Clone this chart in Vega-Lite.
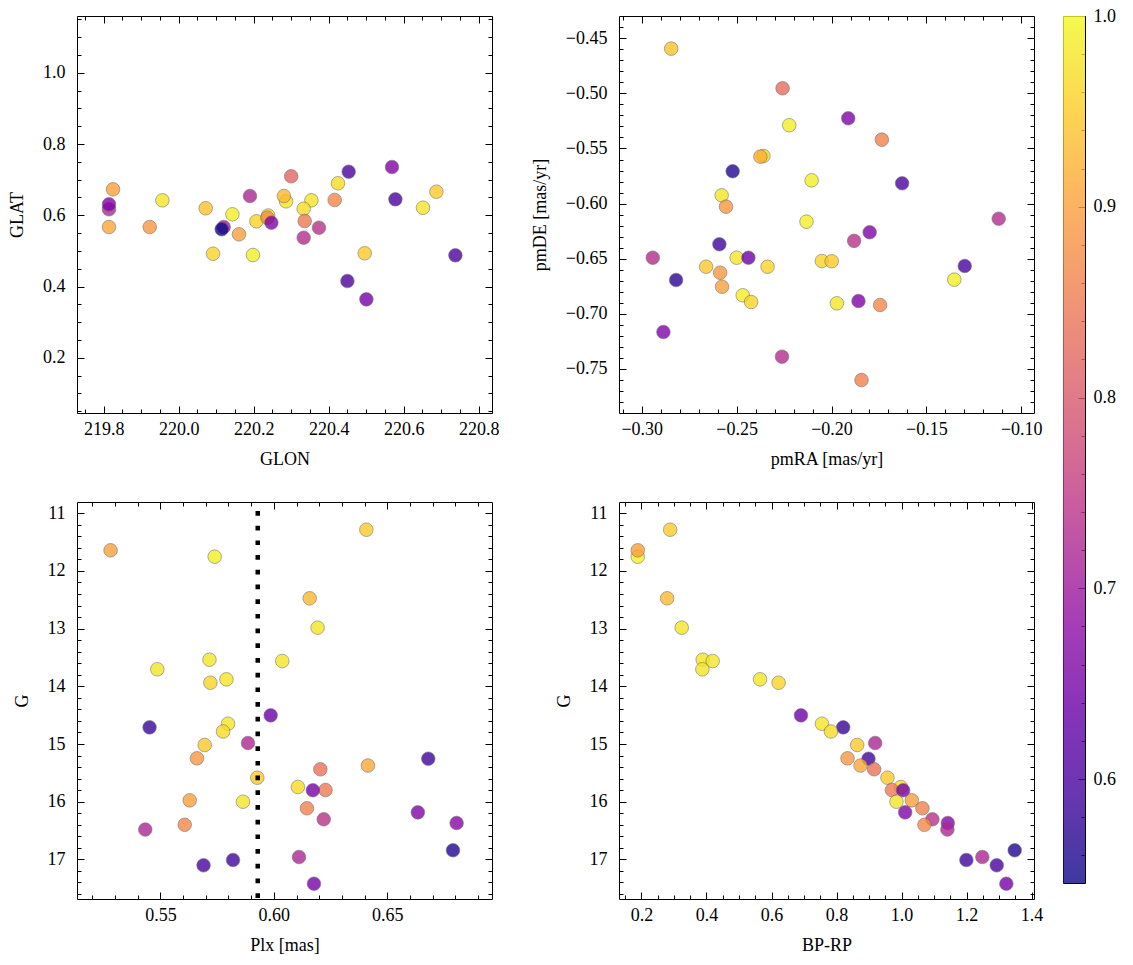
{
  "$schema": "https://vega.github.io/schema/vega-lite/v6.json",
  "background": "white",
  "padding": {"left": 8, "top": 6, "right": 5, "bottom": 5},
  "config": {
    "view": {"stroke": "black", "strokeWidth": 1},
    "axis": {"grid": false, "domain": false, "tickColor": "black", "tickWidth": 1, "labelFont": "Liberation Serif", "labelFontSize": 18, "labelColor": "black", "titleFont": "Liberation Serif", "titleFontSize": 18, "titleFontWeight": "normal", "titleColor": "black", "labelFlush": false, "labelOverlap": false},
    "axisX": {"titlePadding": 12},
    "axisY": {"titlePadding": 16}
  },
  "datasets": {
    "pos": [
      {"GLON": 219.8248, "GLAT": 0.6730, "prob": 0.90},
      {"GLON": 219.8141, "GLAT": 0.6169, "prob": 0.72},
      {"GLON": 219.8141, "GLAT": 0.6309, "prob": 0.66},
      {"GLON": 219.8141, "GLAT": 0.5671, "prob": 0.91},
      {"GLON": 219.9565, "GLAT": 0.6421, "prob": 0.98},
      {"GLON": 219.9227, "GLAT": 0.5671, "prob": 0.89},
      {"GLON": 220.072, "GLAT": 0.6197, "prob": 0.94},
      {"GLON": 220.0915, "GLAT": 0.4921, "prob": 0.96},
      {"GLON": 220.12, "GLAT": 0.5671, "prob": 0.70},
      {"GLON": 220.1147, "GLAT": 0.5607, "prob": 0.546},
      {"GLON": 220.1432, "GLAT": 0.6028, "prob": 0.99},
      {"GLON": 220.1608, "GLAT": 0.5466, "prob": 0.90},
      {"GLON": 220.1901, "GLAT": 0.6542, "prob": 0.72},
      {"GLON": 220.2072, "GLAT": 0.5831, "prob": 0.96},
      {"GLON": 220.1981, "GLAT": 0.4885, "prob": 0.99},
      {"GLON": 220.2387, "GLAT": 0.5994, "prob": 0.96},
      {"GLON": 220.2365, "GLAT": 0.5933, "prob": 0.88},
      {"GLON": 220.2472, "GLAT": 0.5792, "prob": 0.66},
      {"GLON": 220.3, "GLAT": 0.7096, "prob": 0.82},
      {"GLON": 220.2864, "GLAT": 0.6393, "prob": 0.98},
      {"GLON": 220.2805, "GLAT": 0.6542, "prob": 0.93},
      {"GLON": 220.3539, "GLAT": 0.6421, "prob": 0.98},
      {"GLON": 220.3333, "GLAT": 0.6185, "prob": 0.97},
      {"GLON": 220.336, "GLAT": 0.584, "prob": 0.85},
      {"GLON": 220.3741, "GLAT": 0.5652, "prob": 0.74},
      {"GLON": 220.3333, "GLAT": 0.5371, "prob": 0.73},
      {"GLON": 220.4248, "GLAT": 0.6899, "prob": 0.97},
      {"GLON": 220.4533, "GLAT": 0.7225, "prob": 0.60},
      {"GLON": 220.416, "GLAT": 0.643, "prob": 0.87},
      {"GLON": 220.5688, "GLAT": 0.7357, "prob": 0.66},
      {"GLON": 220.5779, "GLAT": 0.6449, "prob": 0.60},
      {"GLON": 220.6872, "GLAT": 0.6663, "prob": 0.95},
      {"GLON": 220.6515, "GLAT": 0.6213, "prob": 0.98},
      {"GLON": 220.496, "GLAT": 0.4933, "prob": 0.95},
      {"GLON": 220.7379, "GLAT": 0.4876, "prob": 0.60},
      {"GLON": 220.4499, "GLAT": 0.4154, "prob": 0.60},
      {"GLON": 220.5005, "GLAT": 0.364, "prob": 0.65}
    ],
    "pm": [
      {"pmRA": -0.2845, "pmDE": -0.4594, "prob": 0.94},
      {"pmRA": -0.2258, "pmDE": -0.4954, "prob": 0.83},
      {"pmRA": -0.2223, "pmDE": -0.5289, "prob": 0.99},
      {"pmRA": -0.2359, "pmDE": -0.5568, "prob": 0.97},
      {"pmRA": -0.2375, "pmDE": -0.5574, "prob": 0.92},
      {"pmRA": -0.2521, "pmDE": -0.5707, "prob": 0.56},
      {"pmRA": -0.2105, "pmDE": -0.5789, "prob": 0.99},
      {"pmRA": -0.2579, "pmDE": -0.5925, "prob": 0.98},
      {"pmRA": -0.2556, "pmDE": -0.6028, "prob": 0.89},
      {"pmRA": -0.1912, "pmDE": -0.5226, "prob": 0.66},
      {"pmRA": -0.1735, "pmDE": -0.542, "prob": 0.86},
      {"pmRA": -0.1628, "pmDE": -0.5816, "prob": 0.60},
      {"pmRA": -0.2132, "pmDE": -0.6164, "prob": 0.99},
      {"pmRA": -0.1119, "pmDE": -0.6137, "prob": 0.73},
      {"pmRA": -0.1799, "pmDE": -0.626, "prob": 0.66},
      {"pmRA": -0.1881, "pmDE": -0.6338, "prob": 0.74},
      {"pmRA": -0.2051, "pmDE": -0.6521, "prob": 0.96},
      {"pmRA": -0.1999, "pmDE": -0.6523, "prob": 0.95},
      {"pmRA": -0.1298, "pmDE": -0.6566, "prob": 0.60},
      {"pmRA": -0.1353, "pmDE": -0.669, "prob": 0.99},
      {"pmRA": -0.2591, "pmDE": -0.6369, "prob": 0.59},
      {"pmRA": -0.2942, "pmDE": -0.6491, "prob": 0.73},
      {"pmRA": -0.25, "pmDE": -0.6491, "prob": 0.98},
      {"pmRA": -0.2438, "pmDE": -0.6491, "prob": 0.64},
      {"pmRA": -0.2661, "pmDE": -0.6573, "prob": 0.95},
      {"pmRA": -0.2587, "pmDE": -0.6627, "prob": 0.89},
      {"pmRA": -0.2337, "pmDE": -0.6573, "prob": 0.96},
      {"pmRA": -0.2819, "pmDE": -0.6693, "prob": 0.57},
      {"pmRA": -0.2577, "pmDE": -0.6754, "prob": 0.90},
      {"pmRA": -0.2468, "pmDE": -0.6832, "prob": 0.99},
      {"pmRA": -0.2424, "pmDE": -0.6893, "prob": 0.96},
      {"pmRA": -0.1972, "pmDE": -0.6905, "prob": 0.98},
      {"pmRA": -0.1858, "pmDE": -0.6884, "prob": 0.66},
      {"pmRA": -0.1744, "pmDE": -0.692, "prob": 0.87},
      {"pmRA": -0.2886, "pmDE": -0.7165, "prob": 0.66},
      {"pmRA": -0.2261, "pmDE": -0.7389, "prob": 0.73},
      {"pmRA": -0.1842, "pmDE": -0.7601, "prob": 0.86}
    ],
    "phot": [
      {"Plx": 0.6408, "G": 11.286, "BP_RP": 0.2882, "prob": 0.95},
      {"Plx": 0.5739, "G": 11.754, "BP_RP": 0.1886, "prob": 0.99},
      {"Plx": 0.528, "G": 11.643, "BP_RP": 0.1886, "prob": 0.90},
      {"Plx": 0.6158, "G": 12.475, "BP_RP": 0.279, "prob": 0.93},
      {"Plx": 0.6193, "G": 12.984, "BP_RP": 0.3238, "prob": 0.98},
      {"Plx": 0.5716, "G": 13.539, "BP_RP": 0.3883, "prob": 0.98},
      {"Plx": 0.6037, "G": 13.562, "BP_RP": 0.419, "prob": 0.98},
      {"Plx": 0.5486, "G": 13.705, "BP_RP": 0.3874, "prob": 0.98},
      {"Plx": 0.5791, "G": 13.879, "BP_RP": 0.5647, "prob": 0.98},
      {"Plx": 0.572, "G": 13.938, "BP_RP": 0.6218, "prob": 0.96},
      {"Plx": 0.5986, "G": 14.503, "BP_RP": 0.6906, "prob": 0.64},
      {"Plx": 0.5798, "G": 14.648, "BP_RP": 0.7551, "prob": 0.98},
      {"Plx": 0.5452, "G": 14.711, "BP_RP": 0.8206, "prob": 0.58},
      {"Plx": 0.5776, "G": 14.783, "BP_RP": 0.7828, "prob": 0.97},
      {"Plx": 0.5886, "G": 14.983, "BP_RP": 0.9189, "prob": 0.72},
      {"Plx": 0.5695, "G": 15.017, "BP_RP": 0.8636, "prob": 0.95},
      {"Plx": 0.5661, "G": 15.248, "BP_RP": 0.8338, "prob": 0.89},
      {"Plx": 0.6681, "G": 15.255, "BP_RP": 0.8983, "prob": 0.59},
      {"Plx": 0.6415, "G": 15.373, "BP_RP": 0.8737, "prob": 0.91},
      {"Plx": 0.6205, "G": 15.438, "BP_RP": 0.9158, "prob": 0.84},
      {"Plx": 0.5927, "G": 15.584, "BP_RP": 0.9567, "prob": 0.95},
      {"Plx": 0.6106, "G": 15.745, "BP_RP": 0.9978, "prob": 0.97},
      {"Plx": 0.6228, "G": 15.797, "BP_RP": 0.9702, "prob": 0.85},
      {"Plx": 0.6172, "G": 15.802, "BP_RP": 1.0049, "prob": 0.65},
      {"Plx": 0.5629, "G": 15.976, "BP_RP": 1.0316, "prob": 0.90},
      {"Plx": 0.5864, "G": 16.0, "BP_RP": 0.9843, "prob": 0.98},
      {"Plx": 0.6146, "G": 16.114, "BP_RP": 1.0642, "prob": 0.86},
      {"Plx": 0.6635, "G": 16.184, "BP_RP": 1.0111, "prob": 0.66},
      {"Plx": 0.622, "G": 16.305, "BP_RP": 1.0949, "prob": 0.74},
      {"Plx": 0.6806, "G": 16.369, "BP_RP": 1.1422, "prob": 0.67},
      {"Plx": 0.5607, "G": 16.4, "BP_RP": 1.0704, "prob": 0.87},
      {"Plx": 0.5433, "G": 16.482, "BP_RP": 1.141, "prob": 0.72},
      {"Plx": 0.679, "G": 16.842, "BP_RP": 1.3481, "prob": 0.56},
      {"Plx": 0.6111, "G": 16.958, "BP_RP": 1.2485, "prob": 0.72},
      {"Plx": 0.582, "G": 17.01, "BP_RP": 1.1994, "prob": 0.59},
      {"Plx": 0.569, "G": 17.102, "BP_RP": 1.2928, "prob": 0.60},
      {"Plx": 0.6177, "G": 17.421, "BP_RP": 1.3223, "prob": 0.65}
    ],
    "ref": [{"Plx": 0.5929}],
    "cbar": [{"lo": 0.5455, "hi": 1.0}]
  },
  "hconcat": [
    {
      "columns": 2,
      "spacing": {"row": 89, "column": 127},
      "bounds": "flush",
      "concat": [
        {
          "width": 415, "height": 397,
          "data": {"name": "pos"},
          "layer": [
            {"mark": {"type": "circle", "size": 185, "opacity": 0.8, "stroke": "#555555", "strokeWidth": 0.6},
             "encoding": {
               "x": {"field": "GLON", "type": "quantitative", "scale": {"domain": [219.7288, 220.8355], "nice": false, "zero": false},
                     "axis": {"orient": "bottom", "values": [219.8, 220.0, 220.2, 220.4, 220.6, 220.8], "format": ".1f", "tickSize": -7, "labelPadding": 14, "title": "GLON"}},
               "y": {"field": "GLAT", "type": "quantitative", "scale": {"domain": [0.0447, 1.1598], "nice": false, "zero": false},
                     "axis": {"orient": "left", "values": [0.2, 0.4, 0.6, 0.8, 1.0], "format": ".1f", "tickSize": -7, "labelPadding": 19, "title": "GLAT"}},
               "color": {"field": "prob", "type": "quantitative", "scale": {"scheme": "plasma", "domain": [0.5455, 1.0]}, "legend": null}
             }},
            {"mark": {"type": "circle", "opacity": 0},
             "encoding": {
               "x": {"field": "GLON", "type": "quantitative", "scale": {"domain": [219.7288, 220.8355], "nice": false, "zero": false},
                     "axis": {"orient": "top", "values": [219.8, 220.0, 220.2, 220.4, 220.6, 220.8], "tickSize": -7, "labels": false, "title": null}},
               "y": {"field": "GLAT", "type": "quantitative", "scale": {"domain": [0.0447, 1.1598], "nice": false, "zero": false},
                     "axis": {"orient": "right", "values": [0.2, 0.4, 0.6, 0.8, 1.0], "tickSize": -7, "labels": false, "title": null}}
             }},
            {"mark": {"type": "circle", "opacity": 0},
             "encoding": {
               "x": {"field": "GLON", "type": "quantitative", "scale": {"domain": [219.7288, 220.8355], "nice": false, "zero": false},
                     "axis": {"orient": "bottom", "values": [219.75, 219.8, 219.85, 219.9, 219.95, 220.0, 220.05, 220.1, 220.15, 220.2, 220.25, 220.3, 220.35, 220.4, 220.45, 220.5, 220.55, 220.6, 220.65, 220.7, 220.75, 220.8], "tickSize": -4, "labels": false, "title": null}},
               "y": {"field": "GLAT", "type": "quantitative", "scale": {"domain": [0.0447, 1.1598], "nice": false, "zero": false},
                     "axis": {"orient": "left", "values": [0.05, 0.1, 0.15, 0.2, 0.25, 0.3, 0.35, 0.4, 0.45, 0.5, 0.55, 0.6, 0.65, 0.7, 0.75, 0.8, 0.85, 0.9, 0.95, 1.0, 1.05, 1.1, 1.15], "tickSize": -4, "labels": false, "title": null}}
             }},
            {"mark": {"type": "circle", "opacity": 0},
             "encoding": {
               "x": {"field": "GLON", "type": "quantitative", "scale": {"domain": [219.7288, 220.8355], "nice": false, "zero": false},
                     "axis": {"orient": "top", "values": [219.75, 219.8, 219.85, 219.9, 219.95, 220.0, 220.05, 220.1, 220.15, 220.2, 220.25, 220.3, 220.35, 220.4, 220.45, 220.5, 220.55, 220.6, 220.65, 220.7, 220.75, 220.8], "tickSize": -4, "labels": false, "title": null}},
               "y": {"field": "GLAT", "type": "quantitative", "scale": {"domain": [0.0447, 1.1598], "nice": false, "zero": false},
                     "axis": {"orient": "right", "values": [0.05, 0.1, 0.15, 0.2, 0.25, 0.3, 0.35, 0.4, 0.45, 0.5, 0.55, 0.6, 0.65, 0.7, 0.75, 0.8, 0.85, 0.9, 0.95, 1.0, 1.05, 1.1, 1.15], "tickSize": -4, "labels": false, "title": null}}
             }}
          ],
          "resolve": {"axis": {"x": "independent", "y": "independent"}}
        },
        {
          "width": 415, "height": 397,
          "data": {"name": "pm"},
          "layer": [
            {"mark": {"type": "circle", "size": 185, "opacity": 0.8, "stroke": "#555555", "strokeWidth": 0.6},
             "encoding": {
               "x": {"field": "pmRA", "type": "quantitative", "scale": {"domain": [-0.312, -0.0933], "nice": false, "zero": false},
                     "axis": {"orient": "bottom", "values": [-0.3, -0.25, -0.2, -0.15, -0.1], "format": ".2f", "tickSize": -7, "labelPadding": 14, "title": "pmRA [mas/yr]"}},
               "y": {"field": "pmDE", "type": "quantitative", "scale": {"domain": [-0.79, -0.4298], "nice": false, "zero": false},
                     "axis": {"orient": "left", "values": [-0.45, -0.5, -0.55, -0.6, -0.65, -0.7, -0.75], "format": ".2f", "tickSize": -7, "labelPadding": 19, "title": "pmDE [mas/yr]"}},
               "color": {"field": "prob", "type": "quantitative", "scale": {"scheme": "plasma", "domain": [0.5455, 1.0]}, "legend": null}
             }},
            {"mark": {"type": "circle", "opacity": 0},
             "encoding": {
               "x": {"field": "pmRA", "type": "quantitative", "scale": {"domain": [-0.312, -0.0933], "nice": false, "zero": false},
                     "axis": {"orient": "top", "values": [-0.3, -0.25, -0.2, -0.15, -0.1], "tickSize": -7, "labels": false, "title": null}},
               "y": {"field": "pmDE", "type": "quantitative", "scale": {"domain": [-0.79, -0.4298], "nice": false, "zero": false},
                     "axis": {"orient": "right", "values": [-0.45, -0.5, -0.55, -0.6, -0.65, -0.7, -0.75], "tickSize": -7, "labels": false, "title": null}}
             }},
            {"mark": {"type": "circle", "opacity": 0},
             "encoding": {
               "x": {"field": "pmRA", "type": "quantitative", "scale": {"domain": [-0.312, -0.0933], "nice": false, "zero": false},
                     "axis": {"orient": "bottom", "values": [-0.31, -0.3, -0.29, -0.28, -0.27, -0.26, -0.25, -0.24, -0.23, -0.22, -0.21, -0.2, -0.19, -0.18, -0.17, -0.16, -0.15, -0.14, -0.13, -0.12, -0.11, -0.1], "tickSize": -4, "labels": false, "title": null}},
               "y": {"field": "pmDE", "type": "quantitative", "scale": {"domain": [-0.79, -0.4298], "nice": false, "zero": false},
                     "axis": {"orient": "left", "values": [-0.44, -0.45, -0.46, -0.47, -0.48, -0.49, -0.5, -0.51, -0.52, -0.53, -0.54, -0.55, -0.56, -0.57, -0.58, -0.59, -0.6, -0.61, -0.62, -0.63, -0.64, -0.65, -0.66, -0.67, -0.68, -0.69, -0.7, -0.71, -0.72, -0.73, -0.74, -0.75, -0.76, -0.77, -0.78], "tickSize": -4, "labels": false, "title": null}}
             }},
            {"mark": {"type": "circle", "opacity": 0},
             "encoding": {
               "x": {"field": "pmRA", "type": "quantitative", "scale": {"domain": [-0.312, -0.0933], "nice": false, "zero": false},
                     "axis": {"orient": "top", "values": [-0.31, -0.3, -0.29, -0.28, -0.27, -0.26, -0.25, -0.24, -0.23, -0.22, -0.21, -0.2, -0.19, -0.18, -0.17, -0.16, -0.15, -0.14, -0.13, -0.12, -0.11, -0.1], "tickSize": -4, "labels": false, "title": null}},
               "y": {"field": "pmDE", "type": "quantitative", "scale": {"domain": [-0.79, -0.4298], "nice": false, "zero": false},
                     "axis": {"orient": "right", "values": [-0.44, -0.45, -0.46, -0.47, -0.48, -0.49, -0.5, -0.51, -0.52, -0.53, -0.54, -0.55, -0.56, -0.57, -0.58, -0.59, -0.6, -0.61, -0.62, -0.63, -0.64, -0.65, -0.66, -0.67, -0.68, -0.69, -0.7, -0.71, -0.72, -0.73, -0.74, -0.75, -0.76, -0.77, -0.78], "tickSize": -4, "labels": false, "title": null}}
             }}
          ],
          "resolve": {"axis": {"x": "independent", "y": "independent"}}
        },
        {
          "width": 415, "height": 397,
          "layer": [
            {"data": {"name": "phot"},
             "mark": {"type": "circle", "size": 185, "opacity": 0.8, "stroke": "#555555", "strokeWidth": 0.6},
             "encoding": {
               "x": {"field": "Plx", "type": "quantitative", "scale": {"domain": [0.5132, 0.6962], "nice": false, "zero": false},
                     "axis": {"orient": "bottom", "values": [0.55, 0.6, 0.65], "format": ".2f", "tickSize": -7, "labelPadding": 14, "title": "Plx [mas]"}},
               "y": {"field": "G", "type": "quantitative", "scale": {"domain": [10.806, 17.686], "reverse": true, "nice": false, "zero": false},
                     "axis": {"orient": "left", "values": [11, 12, 13, 14, 15, 16, 17], "format": "d", "tickSize": -7, "labelPadding": 19, "title": "G"}},
               "color": {"field": "prob", "type": "quantitative", "scale": {"scheme": "plasma", "domain": [0.5455, 1.0]}, "legend": null}
             }},
            {"data": {"name": "ref"},
             "mark": {"type": "rule", "color": "black", "strokeWidth": 4.5, "strokeDash": [4.7, 10], "strokeDashOffset": 5.7},
             "encoding": {
               "x": {"field": "Plx", "type": "quantitative", "scale": {"domain": [0.5132, 0.6962], "nice": false, "zero": false}, "axis": null}
             }},
            {"data": {"name": "phot"},
             "mark": {"type": "circle", "opacity": 0},
             "encoding": {
               "x": {"field": "Plx", "type": "quantitative", "scale": {"domain": [0.5132, 0.6962], "nice": false, "zero": false},
                     "axis": {"orient": "top", "values": [0.55, 0.6, 0.65], "tickSize": -7, "labels": false, "title": null}},
               "y": {"field": "G", "type": "quantitative", "scale": {"domain": [10.806, 17.686], "reverse": true, "nice": false, "zero": false},
                     "axis": {"orient": "right", "values": [11, 12, 13, 14, 15, 16, 17], "tickSize": -7, "labels": false, "title": null}}
             }},
            {"data": {"name": "phot"},
             "mark": {"type": "circle", "opacity": 0},
             "encoding": {
               "x": {"field": "Plx", "type": "quantitative", "scale": {"domain": [0.5132, 0.6962], "nice": false, "zero": false},
                     "axis": {"orient": "bottom", "values": [0.52, 0.53, 0.54, 0.55, 0.56, 0.57, 0.58, 0.59, 0.6, 0.61, 0.62, 0.63, 0.64, 0.65, 0.66, 0.67, 0.68, 0.69], "tickSize": -4, "labels": false, "title": null}},
               "y": {"field": "G", "type": "quantitative", "scale": {"domain": [10.806, 17.686], "reverse": true, "nice": false, "zero": false},
                     "axis": {"orient": "left", "values": [11, 11.2, 11.4, 11.6, 11.8, 12, 12.2, 12.4, 12.6, 12.8, 13, 13.2, 13.4, 13.6, 13.8, 14, 14.2, 14.4, 14.6, 14.8, 15, 15.2, 15.4, 15.6, 15.8, 16, 16.2, 16.4, 16.6, 16.8, 17, 17.2, 17.4, 17.6], "tickSize": -4, "labels": false, "title": null}}
             }},
            {"data": {"name": "phot"},
             "mark": {"type": "circle", "opacity": 0},
             "encoding": {
               "x": {"field": "Plx", "type": "quantitative", "scale": {"domain": [0.5132, 0.6962], "nice": false, "zero": false},
                     "axis": {"orient": "top", "values": [0.52, 0.53, 0.54, 0.55, 0.56, 0.57, 0.58, 0.59, 0.6, 0.61, 0.62, 0.63, 0.64, 0.65, 0.66, 0.67, 0.68, 0.69], "tickSize": -4, "labels": false, "title": null}},
               "y": {"field": "G", "type": "quantitative", "scale": {"domain": [10.806, 17.686], "reverse": true, "nice": false, "zero": false},
                     "axis": {"orient": "right", "values": [11, 11.2, 11.4, 11.6, 11.8, 12, 12.2, 12.4, 12.6, 12.8, 13, 13.2, 13.4, 13.6, 13.8, 14, 14.2, 14.4, 14.6, 14.8, 15, 15.2, 15.4, 15.6, 15.8, 16, 16.2, 16.4, 16.6, 16.8, 17, 17.2, 17.4, 17.6], "tickSize": -4, "labels": false, "title": null}}
             }}
          ],
          "resolve": {"axis": {"x": "independent", "y": "independent"}}
        },
        {
          "width": 415, "height": 397,
          "data": {"name": "phot"},
          "layer": [
            {"mark": {"type": "circle", "size": 185, "opacity": 0.8, "stroke": "#555555", "strokeWidth": 0.6},
             "encoding": {
               "x": {"field": "BP_RP", "type": "quantitative", "scale": {"domain": [0.1309, 1.4074], "nice": false, "zero": false},
                     "axis": {"orient": "bottom", "values": [0.2, 0.4, 0.6, 0.8, 1.0, 1.2, 1.4], "format": ".1f", "tickSize": -7, "labelPadding": 14, "title": "BP-RP"}},
               "y": {"field": "G", "type": "quantitative", "scale": {"domain": [10.806, 17.686], "reverse": true, "nice": false, "zero": false},
                     "axis": {"orient": "left", "values": [11, 12, 13, 14, 15, 16, 17], "format": "d", "tickSize": -7, "labelPadding": 19, "title": "G"}},
               "color": {"field": "prob", "type": "quantitative", "scale": {"scheme": "plasma", "domain": [0.5455, 1.0]}, "legend": null}
             }},
            {"mark": {"type": "circle", "opacity": 0},
             "encoding": {
               "x": {"field": "BP_RP", "type": "quantitative", "scale": {"domain": [0.1309, 1.4074], "nice": false, "zero": false},
                     "axis": {"orient": "top", "values": [0.2, 0.4, 0.6, 0.8, 1.0, 1.2, 1.4], "tickSize": -7, "labels": false, "title": null}},
               "y": {"field": "G", "type": "quantitative", "scale": {"domain": [10.806, 17.686], "reverse": true, "nice": false, "zero": false},
                     "axis": {"orient": "right", "values": [11, 12, 13, 14, 15, 16, 17], "tickSize": -7, "labels": false, "title": null}}
             }},
            {"mark": {"type": "circle", "opacity": 0},
             "encoding": {
               "x": {"field": "BP_RP", "type": "quantitative", "scale": {"domain": [0.1309, 1.4074], "nice": false, "zero": false},
                     "axis": {"orient": "bottom", "values": [0.15, 0.2, 0.25, 0.3, 0.35, 0.4, 0.45, 0.5, 0.55, 0.6, 0.65, 0.7, 0.75, 0.8, 0.85, 0.9, 0.95, 1.0, 1.05, 1.1, 1.15, 1.2, 1.25, 1.3, 1.35, 1.4], "tickSize": -4, "labels": false, "title": null}},
               "y": {"field": "G", "type": "quantitative", "scale": {"domain": [10.806, 17.686], "reverse": true, "nice": false, "zero": false},
                     "axis": {"orient": "left", "values": [11, 11.2, 11.4, 11.6, 11.8, 12, 12.2, 12.4, 12.6, 12.8, 13, 13.2, 13.4, 13.6, 13.8, 14, 14.2, 14.4, 14.6, 14.8, 15, 15.2, 15.4, 15.6, 15.8, 16, 16.2, 16.4, 16.6, 16.8, 17, 17.2, 17.4, 17.6], "tickSize": -4, "labels": false, "title": null}}
             }},
            {"mark": {"type": "circle", "opacity": 0},
             "encoding": {
               "x": {"field": "BP_RP", "type": "quantitative", "scale": {"domain": [0.1309, 1.4074], "nice": false, "zero": false},
                     "axis": {"orient": "top", "values": [0.15, 0.2, 0.25, 0.3, 0.35, 0.4, 0.45, 0.5, 0.55, 0.6, 0.65, 0.7, 0.75, 0.8, 0.85, 0.9, 0.95, 1.0, 1.05, 1.1, 1.15, 1.2, 1.25, 1.3, 1.35, 1.4], "tickSize": -4, "labels": false, "title": null}},
               "y": {"field": "G", "type": "quantitative", "scale": {"domain": [10.806, 17.686], "reverse": true, "nice": false, "zero": false},
                     "axis": {"orient": "right", "values": [11, 11.2, 11.4, 11.6, 11.8, 12, 12.2, 12.4, 12.6, 12.8, 13, 13.2, 13.4, 13.6, 13.8, 14, 14.2, 14.4, 14.6, 14.8, 15, 15.2, 15.4, 15.6, 15.8, 16, 16.2, 16.4, 16.6, 16.8, 17, 17.2, 17.4, 17.6], "tickSize": -4, "labels": false, "title": null}}
             }}
          ],
          "resolve": {"axis": {"x": "independent", "y": "independent"}}
        }
      ]
    },
    {
      "width": 22, "height": 867,
      "data": {"name": "cbar"},
      "layer": [
        {"mark": {"type": "rect", "opacity": 0.8, "color": {"gradient": "linear", "x1": 0, "y1": 1, "x2": 0, "y2": 0, "stops": [
            {"offset": 0.0, "color": "#0d0887"}, {"offset": 0.1, "color": "#41049d"}, {"offset": 0.2, "color": "#6a00a8"},
            {"offset": 0.3, "color": "#8f0da4"}, {"offset": 0.4, "color": "#b12a90"}, {"offset": 0.5, "color": "#cc4778"},
            {"offset": 0.6, "color": "#e16462"}, {"offset": 0.7, "color": "#f2844b"}, {"offset": 0.8, "color": "#fca636"},
            {"offset": 0.9, "color": "#fcce25"}, {"offset": 1.0, "color": "#f0f921"}]}},
         "encoding": {
           "x": {"datum": 0, "type": "quantitative", "scale": {"domain": [0, 1], "nice": false, "zero": false}, "axis": null},
           "x2": {"datum": 1},
           "y": {"field": "lo", "type": "quantitative", "scale": {"domain": [0.5455, 1.0], "nice": false, "zero": false},
                 "axis": {"orient": "right", "values": [0.6, 0.7, 0.8, 0.9, 1.0], "format": ".1f", "tickSize": -7, "labelPadding": 15, "title": null}},
           "y2": {"field": "hi"}
         }},
        {"mark": {"type": "rect", "opacity": 0},
         "encoding": {
           "x": {"datum": 0, "type": "quantitative", "scale": {"domain": [0, 1], "nice": false, "zero": false}, "axis": null},
           "x2": {"datum": 1},
           "y": {"field": "lo", "type": "quantitative", "scale": {"domain": [0.5455, 1.0], "nice": false, "zero": false},
                 "axis": {"orient": "right", "values": [0.56, 0.58, 0.6, 0.62, 0.64, 0.66, 0.68, 0.7, 0.72, 0.74, 0.76, 0.78, 0.8, 0.82, 0.84, 0.86, 0.88, 0.9, 0.92, 0.94, 0.96, 0.98, 1.0], "tickSize": -4, "labels": false, "title": null}},
           "y2": {"field": "hi"}
         }}
      ],
      "resolve": {"axis": {"y": "independent"}}
    }
  ],
  "spacing": 986,
  "bounds": "flush"
}
